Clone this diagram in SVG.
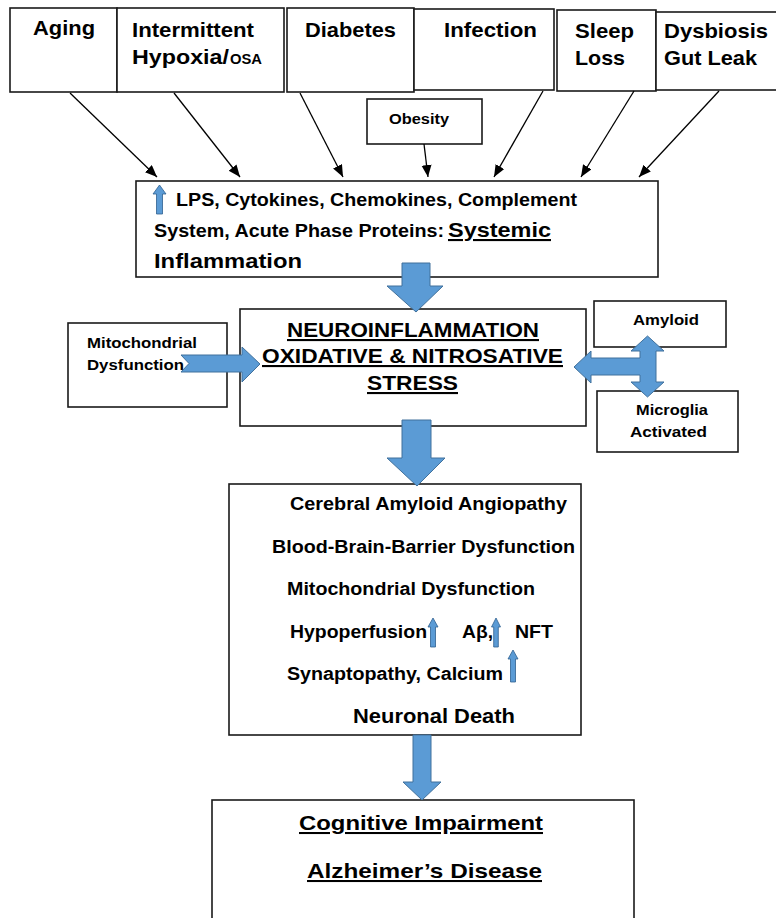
<svg xmlns="http://www.w3.org/2000/svg" width="776" height="918" viewBox="0 0 776 918">
<style>
.box{fill:#fff;stroke:#1a1a1a;stroke-width:1.6}
.t{font-family:"Liberation Sans",Arial,sans-serif;font-weight:bold;fill:#000}
.big{fill:#5B9BD5;stroke:#41719C;stroke-width:1}
.sm{fill:#5B9BD5;stroke:#2F5F8F;stroke-width:0.8}
.con{stroke:#000;stroke-width:1.3;fill:none;marker-end:url(#ah)}
.u{text-decoration:underline}
</style>
<defs>
<marker id="ah" markerUnits="userSpaceOnUse" markerWidth="13" markerHeight="11" refX="12" refY="5" orient="auto">
<path d="M0,0 L12,5 L0,10 Z" fill="#000"/>
</marker>
</defs>
<rect width="776" height="918" fill="#fff"/>

<g id="aging"><rect class="box" x="10" y="8" width="107" height="84"/><text class="t" x="33" y="35" font-size="21" textLength="62" lengthAdjust="spacingAndGlyphs">Aging</text></g>
<g id="hypoxia"><rect class="box" x="117" y="8" width="167" height="84"/><text class="t" x="132" y="37" font-size="21" textLength="122" lengthAdjust="spacingAndGlyphs">Intermittent</text><text class="t" x="132" y="64" font-size="21" textLength="97" lengthAdjust="spacingAndGlyphs">Hypoxia/</text><text class="t" x="230" y="64" font-size="14" textLength="32" lengthAdjust="spacingAndGlyphs">OSA</text></g>
<g id="diabetes"><rect class="box" x="287" y="8" width="127" height="84"/><text class="t" x="305" y="37" font-size="21" textLength="91" lengthAdjust="spacingAndGlyphs">Diabetes</text></g>
<g id="infection"><rect class="box" x="414" y="9" width="140" height="81"/><text class="t" x="444" y="37" font-size="21" textLength="93" lengthAdjust="spacingAndGlyphs">Infection</text></g>
<g id="sleep"><rect class="box" x="557" y="10" width="99" height="81"/><text class="t" x="575" y="38" font-size="21" textLength="59" lengthAdjust="spacingAndGlyphs">Sleep</text><text class="t" x="575" y="65" font-size="21" textLength="50" lengthAdjust="spacingAndGlyphs">Loss</text></g>
<g id="dysbiosis"><rect class="box" x="656" y="12" width="130" height="78"/><text class="t" x="664" y="38" font-size="21" textLength="104" lengthAdjust="spacingAndGlyphs">Dysbiosis</text><text class="t" x="664" y="65" font-size="21" textLength="93" lengthAdjust="spacingAndGlyphs">Gut Leak</text></g>
<g id="obesity"><rect class="box" x="367" y="99" width="115" height="45"/><text class="t" x="389" y="124" font-size="14.5" textLength="60" lengthAdjust="spacingAndGlyphs">Obesity</text></g>

<g id="systemic"><rect class="box" x="136" y="181" width="522" height="96"/>
<path class="sm" d="M159.5,185 L166,194 L162.5,194 L162.5,214 L156.5,214 L156.5,194 L153,194 Z"/>
<text class="t" x="176" y="206" font-size="17.5" textLength="401" lengthAdjust="spacingAndGlyphs">LPS, Cytokines, Chemokines, Complement</text>
<text class="t" x="154" y="237" font-size="17.5" textLength="290" lengthAdjust="spacingAndGlyphs">System, Acute Phase Proteins:</text>
<text class="t u" x="448" y="237" font-size="21" textLength="103" lengthAdjust="spacingAndGlyphs">Systemic</text>
<text class="t" x="154" y="268" font-size="21" textLength="148" lengthAdjust="spacingAndGlyphs">Inflammation</text>
</g>

<g id="neuro"><rect class="box" x="240" y="309" width="346" height="117"/>
<text class="t u" x="287" y="337" font-size="21" textLength="252" lengthAdjust="spacingAndGlyphs">NEUROINFLAMMATION</text>
<text class="t u" x="262" y="363" font-size="21" textLength="301" lengthAdjust="spacingAndGlyphs">OXIDATIVE &amp; NITROSATIVE</text>
<text class="t u" x="367" y="390" font-size="21" textLength="91" lengthAdjust="spacingAndGlyphs">STRESS</text>
</g>
<g id="mito"><rect class="box" x="68" y="323" width="159" height="84"/>
<text class="t" x="87" y="348" font-size="15.5" textLength="110" lengthAdjust="spacingAndGlyphs">Mitochondrial</text>
<text class="t" x="87" y="370" font-size="15.5" textLength="97" lengthAdjust="spacingAndGlyphs">Dysfunction</text>
</g>
<g id="amyloid"><rect class="box" x="594" y="301" width="132" height="46"/><text class="t" x="633" y="325" font-size="15" textLength="66" lengthAdjust="spacingAndGlyphs">Amyloid</text></g>
<g id="microglia"><rect class="box" x="597" y="391" width="141" height="61"/><text class="t" x="636" y="415" font-size="15" textLength="72" lengthAdjust="spacingAndGlyphs">Microglia</text><text class="t" x="630" y="437" font-size="15" textLength="77" lengthAdjust="spacingAndGlyphs">Activated</text></g>

<g id="cerebral"><rect class="box" x="229" y="484" width="352" height="251"/>
<text class="t" x="290" y="510" font-size="17.5" textLength="277" lengthAdjust="spacingAndGlyphs">Cerebral Amyloid Angiopathy</text>
<text class="t" x="272" y="553" font-size="17.5" textLength="303" lengthAdjust="spacingAndGlyphs">Blood-Brain-Barrier Dysfunction</text>
<text class="t" x="287" y="595" font-size="17.5" textLength="248" lengthAdjust="spacingAndGlyphs">Mitochondrial Dysfunction</text>
<text class="t" x="290" y="638" font-size="17.5" textLength="137" lengthAdjust="spacingAndGlyphs">Hypoperfusion</text>
<path class="sm" d="M433,618 L438,627 L435.5,627 L435.5,647 L430.5,647 L430.5,627 L428,627 Z"/>
<text class="t" x="462" y="638" font-size="17.5" textLength="31" lengthAdjust="spacingAndGlyphs">Aβ,</text>
<path class="sm" d="M496,618 L500.5,627 L498.3,627 L498.3,647 L493.7,647 L493.7,627 L491.5,627 Z"/>
<text class="t" x="515" y="638" font-size="17.5" textLength="38" lengthAdjust="spacingAndGlyphs">NFT</text>
<text class="t" x="287" y="680" font-size="17.5" textLength="216" lengthAdjust="spacingAndGlyphs">Synaptopathy, Calcium</text>
<path class="sm" d="M513,650 L518,659 L515.5,659 L515.5,682 L510.5,682 L510.5,659 L508,659 Z"/>
<text class="t" x="353" y="723" font-size="19.5" textLength="162" lengthAdjust="spacingAndGlyphs">Neuronal Death</text>
</g>

<g id="cognitive"><rect class="box" x="212" y="800" width="422" height="130"/>
<text class="t u" x="299" y="830" font-size="20.5" textLength="244" lengthAdjust="spacingAndGlyphs">Cognitive Impairment</text>
<text class="t u" x="307" y="878" font-size="20.5" textLength="235" lengthAdjust="spacingAndGlyphs">Alzheimer’s Disease</text>
</g>

<g id="connectors">
<line class="con" x1="70" y1="93" x2="157" y2="177"/>
<line class="con" x1="174" y1="93" x2="240" y2="177"/>
<line class="con" x1="300" y1="93" x2="343" y2="177"/>
<line class="con" x1="424" y1="144" x2="428" y2="177"/>
<line class="con" x1="543" y1="91" x2="494" y2="177"/>
<line class="con" x1="634" y1="91" x2="581" y2="177"/>
<line class="con" x1="719" y1="91" x2="639" y2="177"/>
<path class="big" d="M402,263 L430,263 L430,286 L443,286 L416,312 L387,286 L402,286 Z"/>
<path class="big" d="M402,420 L431,420 L431,458 L445,458 L417,486 L387,458 L402,458 Z"/>
<path class="big" d="M413,735 L431,735 L431,782 L441,782 L422,800 L403,782 L413,782 Z"/>
<path class="big" d="M181,355 L242,355 L242,347 L260,364 L242,382 L242,372 L181,372 L189,363.5 Z"/>
<path class="big" d="M574,367 L591,351 L591,358 L640,358 L640,351 L631,351 L647.5,336 L664,351 L656,351 L656,382 L664,382 L647.5,397 L631,382 L640,382 L640,375 L591,375 L591,383 Z"/>
</g>
</svg>
